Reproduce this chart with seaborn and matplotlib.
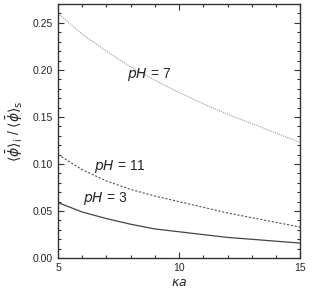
import numpy as np
import pandas as pd
import matplotlib
matplotlib.use('Agg')
import matplotlib.pyplot as plt
import seaborn as sns
from matplotlib.ticker import MultipleLocator

sns.set_theme(style="ticks")
plt.rcParams['font.family'] = ['Liberation Sans', 'DejaVu Sans']
plt.rcParams['mathtext.fontset'] = 'dejavusans'

# data
kappa_a = [5, 6, 7, 8, 9, 10, 11, 12, 13, 14, 15]
ph7 = [0.260, 0.238, 0.220, 0.203, 0.189, 0.176, 0.164, 0.153, 0.143, 0.133, 0.123]
ph11 = [0.110, 0.094, 0.082, 0.073, 0.066, 0.060, 0.054, 0.048, 0.043, 0.038, 0.033]
ph3 = [0.059, 0.049, 0.042, 0.036, 0.031, 0.028, 0.025, 0.022, 0.020, 0.018, 0.016]

df = pd.DataFrame({'ka': kappa_a, 'pH7': ph7, 'pH11': ph11, 'pH3': ph3})

fig = plt.figure(figsize=(3.12, 2.91), dpi=100)
ax = fig.add_axes([0.186, 0.113, 0.776, 0.873])

sns.lineplot(data=df, x='ka', y='pH7', ax=ax, color='#9a9a9a', lw=0.8, linestyle=(0, (1, 1)))
sns.lineplot(data=df, x='ka', y='pH11', ax=ax, color='#555555', lw=0.8, linestyle=(0, (2, 1.5)))
sns.lineplot(data=df, x='ka', y='pH3', ax=ax, color='#444444', lw=0.9)

ax.text(8.75, 0.195, r'$pH$ = 7', fontsize=10, ha='center', va='center')
ax.text(7.55, 0.097, r'$pH$ = 11', fontsize=10, ha='center', va='center')
ax.text(6.95, 0.063, r'$pH$ = 3', fontsize=10, ha='center', va='center')

ax.set_xlim(5, 15)
ax.set_ylim(0, 0.27)
ax.xaxis.set_major_locator(MultipleLocator(5))
ax.xaxis.set_minor_locator(MultipleLocator(1))
ax.yaxis.set_major_locator(MultipleLocator(0.05))
ax.yaxis.set_minor_locator(MultipleLocator(0.01))
ax.yaxis.set_major_formatter(matplotlib.ticker.FormatStrFormatter('%.2f'))
ax.tick_params(which='both', direction='in', top=True, right=True, labelsize=7.5, width=0.8, color='#333333')
ax.tick_params(which='major', length=4)
ax.tick_params(which='minor', length=2)
for s in ax.spines.values():
    s.set_linewidth(1.0)
    s.set_color('#333333')

ax.set_xlabel(r'$\kappa a$', fontsize=9, labelpad=3)
ax.set_ylabel(r'$\langle\bar{\phi}\rangle_{\rm i}$ / $\langle\bar{\phi}\rangle_{\rm s}$', fontsize=10, labelpad=6)

fig.savefig('out.png', dpi=100)
